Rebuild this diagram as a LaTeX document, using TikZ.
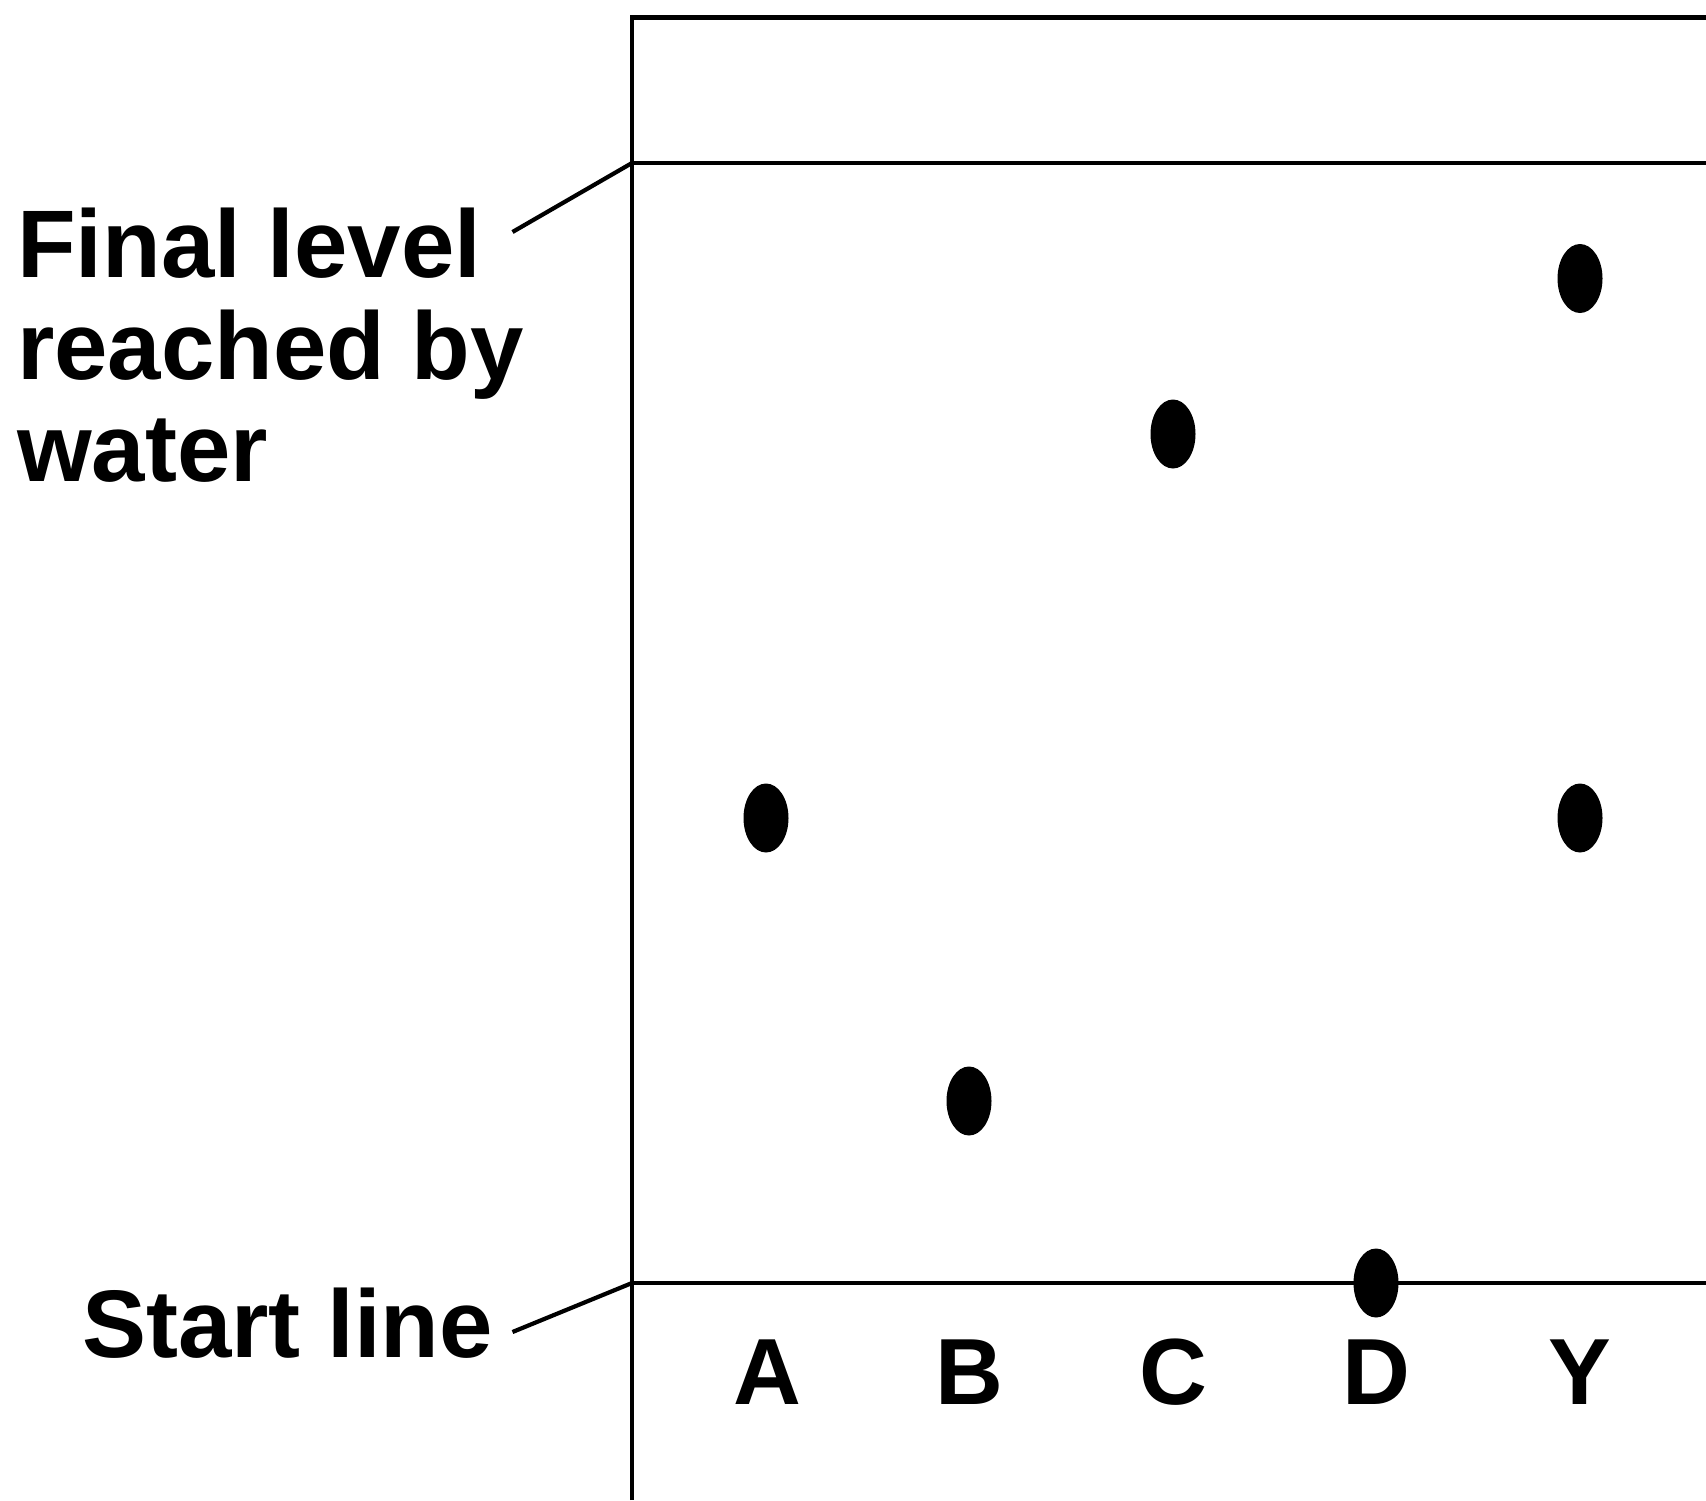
\documentclass[tikz,border=0pt]{standalone}
\usepackage{fontspec}
\setmainfont{Liberation Sans}
\usetikzlibrary{shapes.geometric}
\begin{document}
\begin{tikzpicture}[x=1pt,y=-1pt,
  rule/.style={line width=4.2pt,line cap=butt},
  leader/.style={line width=4.2pt},
  spot/.style={ellipse,fill=black,draw=none,inner sep=0pt,minimum width=45pt,minimum height=69pt},
  lbl/.style={inner sep=0pt,font=\fontsize{96}{102}\selectfont\bfseries},
  lane/.style={inner sep=0pt,anchor=base,font=\fontsize{94}{102}\selectfont\bfseries}]
\useasboundingbox (0,0) rectangle (1706,1500);

% frame of the chromatography paper
\coordinate (topleft) at (632,17.5);
\coordinate (topright) at (1706,17.5);
\coordinate (finalleft) at (632,163);
\coordinate (finalright) at (1706,163);
\coordinate (startleft) at (632,1283);
\coordinate (startright) at (1706,1283);
\coordinate (bottomleft) at (632,1500);

\draw[rule] (bottomleft) -- (topleft) -- (topright);
\draw[rule] (finalleft) -- (finalright);
\draw[rule] (startleft) -- (startright);

% side labels with leader lines (base anchor sits on the last line)
\node[lbl,anchor=base west,align=left] (finaltext) at (17,481)
  {Final level\\reached by\\water};
\node[lbl,anchor=base west] (starttext) at (82,1357) {Start line};
\coordinate (finalend) at (512.5,232);
\coordinate (startend) at (512.5,1332);
\draw[leader] (finalend) -- (finalleft);
\draw[leader] (startend) -- (startleft);

% lane letters
\node[lane] (A) at (767,1404) {A};
\node[lane] (B) at (969,1404) {B};
\node[lane] (C) at (1173,1404) {C};
\node[lane] (D) at (1376,1404) {D};
\node[lane] (Y) at (1580,1404) {Y};

% spots
\node[spot] (yone) at (1580,278.5) {};
\node[spot] (cspot) at (1173,434) {};
\node[spot] (aspot) at (766,818) {};
\node[spot] (ytwo) at (1580,818) {};
\node[spot] (bspot) at (969,1101) {};
\node[spot] (dspot) at (1376,1283) {};
\end{tikzpicture}
\end{document}
